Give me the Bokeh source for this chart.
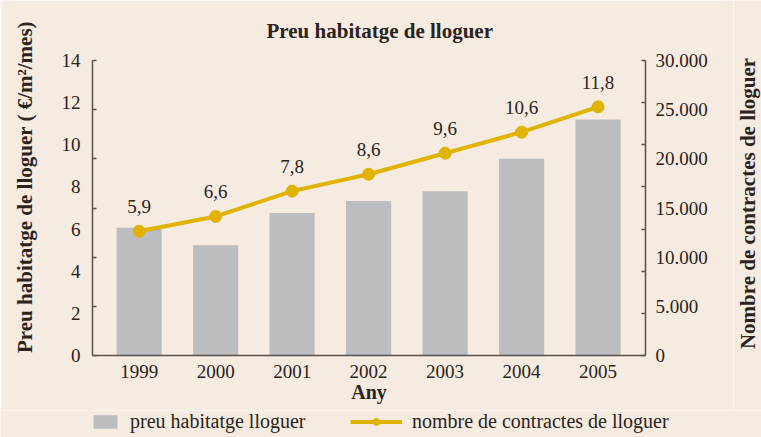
import math
from bokeh.plotting import figure
from bokeh.layouts import column, row
from bokeh.models import Range1d, LinearAxis, FixedTicker, Legend, LegendItem, ColumnDataSource
from bokeh.core.properties import value
from bokeh.embed import file_html
from bokeh.resources import INLINE

# ---- data ----
years = [1999, 2000, 2001, 2002, 2003, 2004, 2005]
contracts = [13000, 11200, 14500, 15700, 16700, 20000, 24000]
price = [5.9, 6.6, 7.8, 8.6, 9.6, 10.6, 11.8]
price_labels = [f"{v:.1f}".replace(".", ",") for v in price]
left_ticks = [0, 2, 4, 6, 8, 10, 12, 14]
right_ticks = [0, 5000, 10000, 15000, 20000, 25000, 30000]
right_tick_labels = {t: f"{t:,}".replace(",", ".") for t in right_ticks}
left_tick_marks = [14 * k / 6 for k in range(7)]
right_tick_marks = [30000 * k / 7 for k in range(8)]
legend_labels = ["preu habitatge lloguer", "nombre de contractes de lloguer"]
right_title = ["Nombre de contractes de lloguer"]

BG = "#f5ebe0"
BAR = "#bcbdc0"
GOLD = "#e0b300"
TXT = "#2a2320"
AX = "#5a524d"
FONT = "Liberation Serif"


def no_align(fig):
    if "frame_align" in fig.properties():
        fig.frame_align = False


src = ColumnDataSource(dict(x=years, c=contracts, p=price, lab=price_labels))

p = figure(width=733, height=410, x_range=Range1d(1998.39, 2005.62), y_range=Range1d(0, 14),
           output_backend="svg", toolbar_location=None,
           background_fill_color=BG, border_fill_color=BG,
           min_border_left=92, min_border_right=88, min_border_top=60, min_border_bottom=55)
p.outline_line_color = None
p.xgrid.grid_line_color = None
p.ygrid.grid_line_color = None
p.extra_y_ranges = {"c": Range1d(0, 30000)}
no_align(p)

p.title.text = "Preu habitatge de lloguer"
p.title.text_font = FONT
p.title.text_font_size = "21px"
p.title.text_font_style = "bold"
p.title.text_color = TXT
p.title.align = "left"
p.title.offset = 174
p.title.vertical_align = "top"
p.title.standoff = 31

bars = p.vbar(x="x", top="c", width=0.59, source=src, y_range_name="c",
              fill_color=BAR, line_color=None)
line = p.line(x="x", y="p", source=src, line_width=4, color=GOLD)
pts = p.scatter(x="x", y="p", source=src, size=12, color=GOLD)
p.text(x="x", y="p", text="lab", source=src, y_offset=-18, text_align="center",
       text_baseline="bottom", text_font=value(FONT), text_font_size="19px", text_color=TXT)

def style_axis(ax):
    ax.axis_line_color = AX
    ax.axis_line_width = 1.5
    ax.major_label_text_font = FONT
    ax.major_label_text_font_size = "19px"
    ax.major_label_text_color = TXT
    ax.axis_label_text_font = FONT
    ax.axis_label_text_font_size = "21px"
    ax.axis_label_text_font_style = "bold"
    ax.axis_label_text_color = TXT
    ax.major_tick_line_color = AX
    ax.minor_tick_line_color = AX
    ax.minor_tick_line_width = 1.5

yl = p.yaxis[0]
yl.ticker = FixedTicker(ticks=left_ticks, minor_ticks=left_tick_marks)
yl.major_tick_in = 0
yl.major_tick_out = 0
yl.minor_tick_in = 4
yl.minor_tick_out = 0
yl.axis_label = "\u00a0" * 8 + "Preu habitatge de lloguer ( €/m²/mes)"
yl.major_label_standoff = 12
yl.axis_label_standoff = 22
style_axis(yl)

yr = LinearAxis(y_range_name="c", ticker=FixedTicker(ticks=right_ticks, minor_ticks=right_tick_marks),
                major_label_overrides=right_tick_labels)
yr.major_tick_in = 0
yr.major_tick_out = 0
yr.minor_tick_in = 4
yr.minor_tick_out = 0
yr.major_label_standoff = 10
style_axis(yr)
p.add_layout(yr, "right")

xa = p.xaxis[0]
xa.ticker = FixedTicker(ticks=years)
xa.major_tick_in = 0
xa.major_tick_out = 0
xa.minor_tick_in = 0
xa.minor_tick_out = 0
xa.axis_label = "Any"
xa.major_label_standoff = 9
xa.axis_label_standoff = 0
style_axis(xa)
xa.axis_label_text_font_size = "20px"

# ---- right-hand axis title strip (reads bottom to top) ----
rs = figure(width=28, height=410, x_range=Range1d(0, 1), y_range=Range1d(0, 1),
            output_backend="svg", toolbar_location=None,
            x_axis_location=None, y_axis_location=None,
            background_fill_color=BG, border_fill_color=BG,
            min_border_left=0, min_border_right=0, min_border_top=0, min_border_bottom=0)
rs.outline_line_color = None
rs.xgrid.grid_line_color = None
rs.ygrid.grid_line_color = None
no_align(rs)
rs.text(x=[0.5], y=[0.505], text=right_title, angle=math.pi / 2, text_align="center",
        text_baseline="middle", text_font=value(FONT), text_font_size="21px",
        text_font_style="bold", text_color=TXT)

# ---- legend strip (separate figure below the chart) ----
lf = figure(width=761, height=27, x_range=Range1d(0, 1), y_range=Range1d(0, 1),
            output_backend="svg", toolbar_location=None,
            x_axis_location=None, y_axis_location=None,
            background_fill_color=BG, border_fill_color=BG,
            min_border_left=0, min_border_right=0, min_border_top=0, min_border_bottom=0)
lf.outline_line_color = None
lf.xgrid.grid_line_color = None
lf.ygrid.grid_line_color = None
no_align(lf)
dummy = ColumnDataSource(dict(x=[-5], y=[-5], top=[-5]))
lb = lf.vbar(x="x", top="top", width=0.5, source=dummy, fill_color=BAR, line_color=None)
ll = lf.line(x="x", y="y", source=dummy, line_width=4, color=GOLD)
lp = lf.scatter(x="x", y="y", source=dummy, size=12, color=GOLD)

common = dict(orientation="horizontal", background_fill_alpha=0, border_line_color=None,
              padding=0, margin=0, label_text_font=FONT, label_text_font_size="20px",
              label_text_color=TXT, glyph_height=17, label_standoff=10)
leg1 = Legend(items=[LegendItem(label=legend_labels[0], renderers=[lb])],
              location=(90, 4), glyph_width=30, **common)
leg2 = Legend(items=[LegendItem(label=legend_labels[1], renderers=[ll, lp])],
              location=(350, 4), glyph_width=52, **common)
lf.add_layout(leg1, "center")
lf.add_layout(leg2, "center")

layout = column(row(p, rs, spacing=0), lf, spacing=0)
open("out.html", "w").write(file_html(layout, INLINE))
